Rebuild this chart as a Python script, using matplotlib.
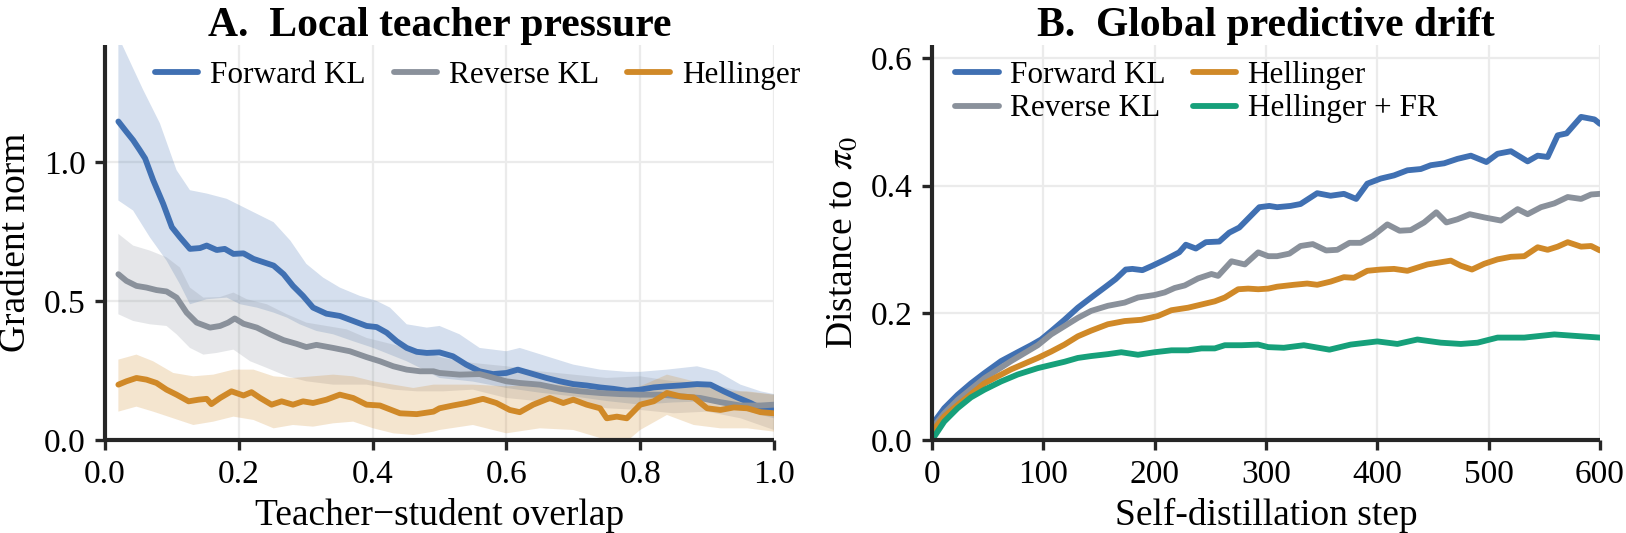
import numpy as np
import matplotlib as mpl
mpl.use('Agg')
from matplotlib import pyplot as plt

plt.rcParams['font.family'] = ['Liberation Serif', 'DejaVu Serif']
plt.rcParams['mathtext.fontset'] = 'stix'

BLUE = '#4070b2'
GRAY = '#8a919b'
ORANGE = '#d08928'
GREEN = '#16a07a'
SPINE = '#262626'

# ---- panel A: gradient norm vs teacher-student overlap ----
fkl_x = [0.02, 0.032, 0.042, 0.052, 0.06, 0.072, 0.087, 0.10, 0.112, 0.127, 0.142, 0.152, 0.167, 0.179,
         0.192, 0.207, 0.222, 0.237, 0.252, 0.267, 0.281, 0.296, 0.311, 0.331, 0.351, 0.371, 0.391, 0.406,
         0.421, 0.436, 0.451, 0.466, 0.481, 0.50, 0.52, 0.54, 0.56, 0.58, 0.60, 0.617, 0.64, 0.66, 0.68,
         0.70, 0.72, 0.74, 0.76, 0.78, 0.80, 0.82, 0.84, 0.86, 0.885, 0.905, 0.925, 0.945, 0.965, 0.98, 1.0]
fkl_y = [1.145, 1.108, 1.078, 1.042, 1.012, 0.934, 0.849, 0.765, 0.729, 0.687, 0.69, 0.699, 0.683, 0.687,
         0.669, 0.671, 0.651, 0.639, 0.627, 0.596, 0.554, 0.518, 0.476, 0.454, 0.446, 0.428, 0.41, 0.406,
         0.386, 0.355, 0.331, 0.317, 0.313, 0.315, 0.301, 0.271, 0.247, 0.237, 0.241, 0.253, 0.237, 0.223,
         0.211, 0.201, 0.196, 0.189, 0.184, 0.177, 0.181, 0.189, 0.193, 0.196, 0.201, 0.199, 0.175, 0.153,
         0.133, 0.114, 0.108]
fkl_hi_x = [0.02, 0.057, 0.082, 0.107, 0.127, 0.152, 0.182, 0.202, 0.227, 0.252, 0.277, 0.301, 0.326, 0.351,
            0.381, 0.406, 0.426, 0.451, 0.481, 0.5, 0.53, 0.56, 0.60, 0.62, 0.66, 0.70, 0.74, 0.78, 0.80,
            0.84, 0.885, 0.915, 0.95, 0.98, 1.0]
fkl_hi = [1.45, 1.259, 1.139, 0.97, 0.898, 0.886, 0.867, 0.843, 0.813, 0.783, 0.717, 0.633, 0.584, 0.548,
          0.518, 0.5, 0.476, 0.416, 0.404, 0.41, 0.38, 0.331, 0.319, 0.331, 0.301, 0.271, 0.253, 0.245, 0.245,
          0.253, 0.265, 0.247, 0.199, 0.175, 0.165]
fkl_lo_x = [0.02, 0.042, 0.067, 0.092, 0.112, 0.127, 0.152, 0.182, 0.202, 0.227, 0.252, 0.272, 0.291, 0.316,
            0.341, 0.371, 0.401, 0.426, 0.451, 0.481, 0.5, 0.55, 0.60, 0.65, 0.70, 0.75, 0.80, 0.85, 0.90,
            0.95, 1.0]
fkl_lo = [0.861, 0.825, 0.729, 0.645, 0.56, 0.488, 0.506, 0.512, 0.488, 0.476, 0.458, 0.44, 0.416, 0.392,
          0.38, 0.355, 0.331, 0.307, 0.283, 0.247, 0.223, 0.21, 0.187, 0.17, 0.157, 0.14, 0.127, 0.135, 0.139,
          0.11, 0.078]

rkl_x = [0.02, 0.032, 0.047, 0.062, 0.077, 0.092, 0.107, 0.122, 0.137, 0.157, 0.172, 0.184, 0.194, 0.207,
         0.227, 0.247, 0.267, 0.286, 0.301, 0.316, 0.341, 0.366, 0.391, 0.411, 0.431, 0.451, 0.471, 0.491,
         0.5, 0.53, 0.56, 0.60, 0.62, 0.65, 0.68, 0.71, 0.74, 0.77, 0.80, 0.83, 0.86, 0.89, 0.92, 0.95,
         0.98, 1.0]
rkl_y = [0.596, 0.572, 0.554, 0.548, 0.539, 0.534, 0.512, 0.458, 0.422, 0.404, 0.41, 0.422, 0.437, 0.418,
         0.404, 0.38, 0.359, 0.346, 0.334, 0.342, 0.331, 0.319, 0.298, 0.283, 0.265, 0.253, 0.247, 0.247,
         0.241, 0.235, 0.237, 0.211, 0.205, 0.199, 0.184, 0.175, 0.169, 0.165, 0.163, 0.163, 0.157, 0.151,
         0.136, 0.124, 0.124, 0.127]
rkl_hi_x = [0.02, 0.042, 0.067, 0.092, 0.112, 0.127, 0.147, 0.172, 0.192, 0.212, 0.242, 0.272, 0.301, 0.331,
            0.361, 0.391, 0.421, 0.451, 0.481, 0.506, 0.55, 0.60, 0.65, 0.70, 0.75, 0.80, 0.85, 0.90, 0.95,
            1.0]
rkl_hi = [0.741, 0.699, 0.681, 0.657, 0.62, 0.548, 0.512, 0.514, 0.53, 0.506, 0.488, 0.452, 0.422, 0.41,
          0.398, 0.367, 0.349, 0.331, 0.313, 0.295, 0.277, 0.265, 0.247, 0.235, 0.223, 0.229, 0.211, 0.205,
          0.175, 0.163]
rkl_lo_x = [0.02, 0.042, 0.067, 0.092, 0.107, 0.127, 0.147, 0.167, 0.192, 0.217, 0.242, 0.272, 0.301, 0.341,
            0.391, 0.431, 0.466, 0.506, 0.55, 0.60, 0.65, 0.70, 0.75, 0.80, 0.85, 0.90, 0.95, 1.0]
rkl_lo = [0.452, 0.428, 0.416, 0.41, 0.38, 0.331, 0.307, 0.313, 0.325, 0.283, 0.259, 0.229, 0.211, 0.199,
          0.199, 0.181, 0.175, 0.175, 0.181, 0.151, 0.139, 0.133, 0.114, 0.108, 0.096, 0.102, 0.078, 0.036]

hel_x = [0.02, 0.032, 0.047, 0.062, 0.077, 0.092, 0.107, 0.125, 0.14, 0.152, 0.159, 0.172, 0.189, 0.207,
         0.219, 0.232, 0.249, 0.264, 0.281, 0.296, 0.311, 0.331, 0.351, 0.371, 0.391, 0.411, 0.441, 0.466,
         0.491, 0.5, 0.52, 0.54, 0.565, 0.585, 0.605, 0.62, 0.64, 0.665, 0.685, 0.70, 0.72, 0.74, 0.75,
         0.765, 0.78, 0.80, 0.82, 0.84, 0.86, 0.88, 0.90, 0.92, 0.94, 0.96, 0.98, 1.0]
hel_y = [0.199, 0.211, 0.223, 0.217, 0.205, 0.181, 0.163, 0.139, 0.145, 0.148, 0.129, 0.151, 0.175, 0.16,
         0.172, 0.151, 0.127, 0.139, 0.127, 0.139, 0.133, 0.145, 0.163, 0.151, 0.127, 0.124, 0.096, 0.093,
         0.102, 0.114, 0.124, 0.133, 0.148, 0.133, 0.108, 0.1, 0.127, 0.151, 0.133, 0.145, 0.127, 0.114,
         0.078, 0.084, 0.078, 0.127, 0.139, 0.169, 0.157, 0.153, 0.114, 0.108, 0.117, 0.114, 0.1, 0.096]
hel_band_x = [0.02, 0.047, 0.072, 0.102, 0.132, 0.162, 0.192, 0.222, 0.252, 0.281, 0.311, 0.341, 0.371, 0.401,
              0.431, 0.461, 0.491, 0.5, 0.55, 0.6, 0.65, 0.70, 0.75, 0.78, 0.80, 0.84, 0.88, 0.92, 0.96, 1.0]
hel_hi = [0.289, 0.307, 0.283, 0.241, 0.229, 0.235, 0.253, 0.253, 0.229, 0.223, 0.229, 0.235, 0.229, 0.211,
          0.199, 0.187, 0.199, 0.199, 0.199, 0.193, 0.199, 0.199, 0.163, 0.175, 0.193, 0.235, 0.211, 0.175,
          0.175, 0.163]
hel_lo = [0.102, 0.12, 0.102, 0.078, 0.054, 0.066, 0.084, 0.072, 0.042, 0.054, 0.048, 0.06, 0.066, 0.042,
          0.024, 0.018, 0.03, 0.036, 0.054, 0.024, 0.042, 0.036, 0.0, -0.005, 0.036, 0.09, 0.054, 0.042,
          0.042, 0.03]

# ---- panel B: distance to pi_0 over self-distillation steps ----
b_fkl_x = [0, 11, 23, 35, 47, 62, 77, 89, 98, 107, 119, 131, 143, 156, 165, 174, 180, 189, 198, 210, 222,
           228, 237, 246, 258, 267, 276, 285, 294, 303, 310, 322, 331, 346, 358, 370, 381, 391, 403, 415,
           427, 439, 448, 460, 472, 484, 498, 508, 520, 535, 544, 553, 562, 570, 583, 595, 600]
b_fkl_y = [0.024, 0.05, 0.071, 0.089, 0.105, 0.124, 0.138, 0.149, 0.158, 0.171, 0.189, 0.208, 0.224, 0.241,
           0.253, 0.268, 0.269, 0.267, 0.274, 0.284, 0.295, 0.307, 0.301, 0.311, 0.312, 0.326, 0.334, 0.35,
           0.366, 0.368, 0.366, 0.368, 0.371, 0.388, 0.384, 0.387, 0.379, 0.403, 0.411, 0.416, 0.424, 0.426,
           0.432, 0.435, 0.442, 0.447, 0.437, 0.45, 0.454, 0.438, 0.447, 0.445, 0.479, 0.482, 0.508, 0.504,
           0.497]
b_rkl_x = [0, 11, 23, 47, 71, 95, 107, 119, 131, 143, 158, 173, 185, 200, 209, 218, 227, 239, 251, 257, 269,
           281, 293, 302, 310, 321, 331, 342, 354, 364, 375, 385, 396, 409, 420, 430, 442, 453, 462, 472,
           483, 496, 511, 526, 535, 547, 559, 571, 583, 592, 600]
b_rkl_y = [0.018, 0.042, 0.063, 0.097, 0.124, 0.149, 0.166, 0.179, 0.192, 0.203, 0.211, 0.216, 0.224, 0.228,
           0.232, 0.239, 0.243, 0.254, 0.261, 0.258, 0.281, 0.276, 0.295, 0.289, 0.289, 0.293, 0.305, 0.308,
           0.298, 0.299, 0.31, 0.31, 0.321, 0.339, 0.329, 0.33, 0.342, 0.358, 0.342, 0.347, 0.355, 0.35,
           0.345, 0.363, 0.355, 0.366, 0.372, 0.382, 0.379, 0.386, 0.387]
b_hel_x = [0, 11, 23, 47, 71, 95, 107, 119, 131, 143, 158, 173, 188, 203, 215, 230, 242, 254, 263, 275, 284,
           293, 302, 310, 325, 337, 346, 358, 370, 379, 391, 403, 415, 427, 445, 466, 475, 485, 496, 508,
           520, 532, 544, 553, 562, 571, 583, 592, 600]
b_hel_y = [0.013, 0.037, 0.055, 0.089, 0.111, 0.129, 0.139, 0.15, 0.163, 0.172, 0.182, 0.187, 0.189, 0.195,
           0.204, 0.208, 0.213, 0.218, 0.224, 0.237, 0.238, 0.237, 0.238, 0.241, 0.244, 0.246, 0.244, 0.249,
           0.256, 0.255, 0.266, 0.268, 0.269, 0.266, 0.276, 0.282, 0.274, 0.268, 0.277, 0.284, 0.288, 0.289,
           0.303, 0.299, 0.304, 0.311, 0.304, 0.305, 0.298]
b_fr_x = [0, 11, 23, 35, 47, 62, 77, 95, 107, 119, 131, 143, 158, 170, 185, 200, 215, 230, 242, 254, 263,
          278, 293, 302, 316, 334, 357, 376, 400, 418, 436, 457, 475, 490, 508, 532, 559, 583, 600]
b_fr_y = [0.0, 0.029, 0.05, 0.067, 0.079, 0.092, 0.103, 0.113, 0.118, 0.123, 0.129, 0.132, 0.135, 0.138,
          0.134, 0.138, 0.141, 0.141, 0.144, 0.144, 0.149, 0.149, 0.15, 0.146, 0.145, 0.149, 0.142, 0.15,
          0.155, 0.151, 0.158, 0.153, 0.151, 0.153, 0.161, 0.161, 0.166, 0.163, 0.161]


def style_axes(ax):
  for side in ['top', 'right']:
    ax.spines[side].set_visible(False)
  for side in ['left', 'bottom']:
    ax.spines[side].set_linewidth(3.0)
    ax.spines[side].set_color(SPINE)
    ax.spines[side].set_capstyle('butt')
  ax.tick_params(axis='both', which='major', direction='out', length=7.5, width=2.4,
                 color=SPINE, labelsize=24, pad=6.5)
  ax.grid(True, color='#ebebeb', linewidth=1.6)
  ax.set_axisbelow(True)


def band(ax, x_hi, y_hi, x_lo, y_lo, color, alpha):
  xs = np.concatenate([np.array(x_hi), np.array(x_lo)[::-1]])
  ys = np.concatenate([np.array(y_hi), np.array(y_lo)[::-1]])
  ax.fill(xs, ys, color=color, alpha=alpha, linewidth=0)


def line(ax, x, y, color, label):
  ax.plot(x, y, color=color, linewidth=4.2, label=label,
          solid_capstyle='round', solid_joinstyle='round')


fig = plt.figure(figsize=(16.26, 5.33), dpi=100)
ax_a = fig.add_axes([105 / 1626, 93 / 533, 669 / 1626, 395 / 533])
ax_b = fig.add_axes([932 / 1626, 93 / 533, 668 / 1626, 395 / 533])

# panel A
band(ax_a, fkl_hi_x, fkl_hi, fkl_lo_x, fkl_lo, BLUE, 0.22)
band(ax_a, rkl_hi_x, rkl_hi, rkl_lo_x, rkl_lo, GRAY, 0.22)
band(ax_a, hel_band_x, hel_hi, hel_band_x, hel_lo, ORANGE, 0.22)
line(ax_a, fkl_x, fkl_y, BLUE, 'Forward KL')
line(ax_a, rkl_x, rkl_y, GRAY, 'Reverse KL')
line(ax_a, hel_x, hel_y, ORANGE, 'Hellinger')
ax_a.set_xlim(0, 1.0)
ax_a.set_ylim(0, 1.42)
ax_a.set_xticks([0.0, 0.2, 0.4, 0.6, 0.8, 1.0])
ax_a.set_yticks([0.0, 0.5, 1.0])
ax_a.xaxis.set_major_formatter(mpl.ticker.FormatStrFormatter('%.1f'))
ax_a.yaxis.set_major_formatter(mpl.ticker.FormatStrFormatter('%.1f'))
style_axes(ax_a)
ax_a.set_xlabel('Teacher\u2212student overlap', fontsize=27, labelpad=6)
ax_a.set_ylabel('Gradient norm', fontsize=27, labelpad=8)
ax_a.set_title('A.  Local teacher pressure', fontsize=30, fontweight='bold', pad=6)
ax_a.legend(loc='upper left', bbox_to_anchor=(0.075, 0.96), ncol=3, frameon=False,
            fontsize=22.5, handlelength=1.38, handletextpad=0.38, columnspacing=0.9,
            borderaxespad=0, borderpad=0)

# panel B
line(ax_b, b_fkl_x, b_fkl_y, BLUE, 'Forward KL')
line(ax_b, b_rkl_x, b_rkl_y, GRAY, 'Reverse KL')
line(ax_b, b_hel_x, b_hel_y, ORANGE, 'Hellinger')
line(ax_b, b_fr_x, b_fr_y, GREEN, 'Hellinger + FR')
ax_b.set_xlim(0, 600)
ax_b.set_ylim(0, 0.621)
ax_b.set_xticks([0, 100, 200, 300, 400, 500, 600])
ax_b.set_yticks([0.0, 0.2, 0.4, 0.6])
ax_b.yaxis.set_major_formatter(mpl.ticker.FormatStrFormatter('%.1f'))
style_axes(ax_b)
ax_b.set_xlabel('Self-distillation step', fontsize=27, labelpad=6)
ax_b.set_ylabel(r'Distance to $\pi_0$', fontsize=27, labelpad=8)
ax_b.set_title('B.  Global predictive drift', fontsize=30, fontweight='bold', pad=6)
ax_b.legend(loc='upper left', bbox_to_anchor=(0.035, 0.96), ncol=2, frameon=False,
            fontsize=22.5, handlelength=1.38, handletextpad=0.38, columnspacing=0.85,
            labelspacing=0.15, borderaxespad=0, borderpad=0)

fig.savefig('out.png', dpi=100)
